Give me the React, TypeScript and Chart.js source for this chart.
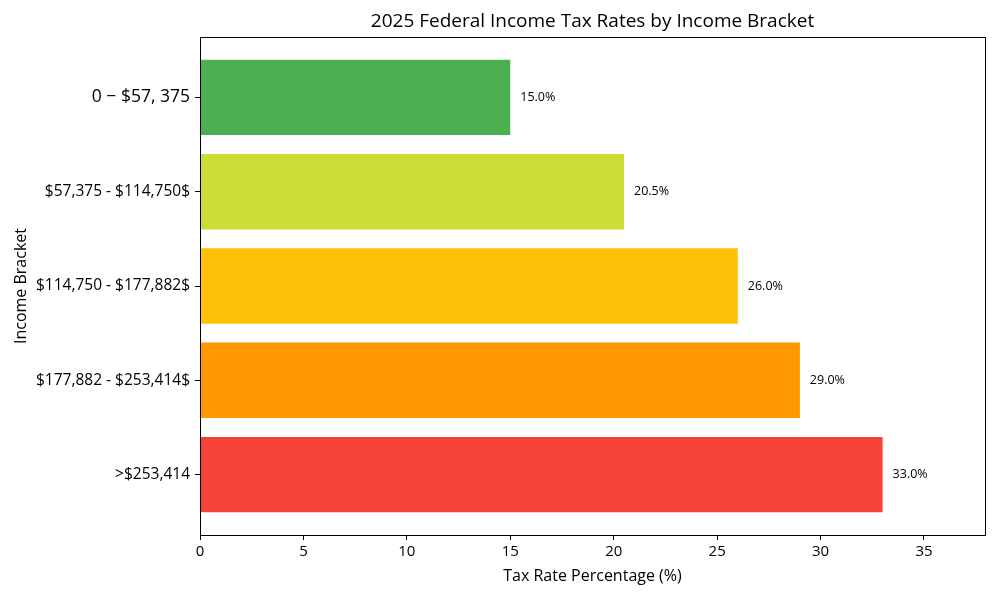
import React, { useEffect, useRef } from "react";
import { Chart, registerables } from "chart.js";

Chart.register(...registerables);

const BRACKETS = [
  "0 − $57, 375",
  "$57,375 - $114,750$",
  "$114,750 - $177,882$",
  "$177,882 - $253,414$",
  ">$253,414",
];
const RATES = [15.0, 20.5, 26.0, 29.0, 33.0];
const COLORS = ["#4CAF50", "#CDDC39", "#FFC107", "#FF9800", "#F44336"];
const X_TICKS = [0, 5, 10, 15, 20, 25, 30, 35];
const TITLE = "2025 Federal Income Tax Rates by Income Bracket";
const X_TITLE = "Tax Rate Percentage (%)";
const Y_TITLE = "Income Bracket";

const FONT = "'Open Sans', Roboto, sans-serif";

const valueLabels = {
  id: "valueLabels",
  afterDatasetsDraw(chart: any) {
    const ctx = chart.ctx;
    const meta = chart.getDatasetMeta(0);
    ctx.save();
    ctx.fillStyle = "#000";
    ctx.font = `12.5px ${FONT}`;
    ctx.textAlign = "left";
    ctx.textBaseline = "middle";
    meta.data.forEach((bar: any, i: number) => {
      ctx.fillText(`${RATES[i].toFixed(1)}%`, bar.x + 10, bar.y);
    });
    ctx.restore();
  },
};

const frame = {
  id: "frame",
  afterDraw(chart: any) {
    const { left, top, right, bottom } = chart.chartArea;
    const ctx = chart.ctx;
    ctx.save();
    ctx.strokeStyle = "#000";
    ctx.lineWidth = 1;
    ctx.strokeRect(Math.round(left) + 0.5, Math.round(top) + 0.5, Math.round(right - left), Math.round(bottom - top));
    ctx.restore();
  },
};

export default function App() {
  const ref = useRef<HTMLCanvasElement>(null);

  useEffect(() => {
    if (!ref.current) return;
    const chart = new Chart(ref.current, {
      type: "bar",
      data: {
        datasets: [
          {
            data: RATES.map((r, i) => ({ x: r, y: i })),
            backgroundColor: COLORS,
            borderWidth: 0,
            barPercentage: 0.8,
            categoryPercentage: 1.0,
          },
        ],
      },
      options: {
        animation: false,
        responsive: true,
        maintainAspectRatio: false,
        indexAxis: "y",
        layout: { padding: { left: 0, right: 15, top: 0, bottom: 0 } },
        plugins: {
          legend: { display: false },
          tooltip: { enabled: false },
          title: {
            display: true,
            text: TITLE,
            fullSize: false,
            color: "#000",
            font: { family: FONT, size: 19, weight: "normal" },
            padding: { top: 10, bottom: 4.2 },
          },
        },
        scales: {
          x: {
            type: "linear",
            position: "bottom",
            min: 0,
            max: 37.95,
            ticks: {
              stepSize: 5,
              color: "#000",
              font: { family: FONT, size: 15 },
              padding: 3,
              maxRotation: 0,
            },
            afterBuildTicks: (scale: any) => {
              scale.ticks = X_TICKS.map((v) => ({ value: v }));
            },
            afterFit: (scale: any) => {
              scale.height = 65;
            },
            grid: { display: true, drawOnChartArea: false, drawTicks: true, tickLength: 5, color: "#000" },
            border: { display: false },
            title: {
              display: true,
              text: X_TITLE,
              color: "#000",
              font: { family: FONT, size: 16 },
              padding: { top: 0, bottom: 14 },
            },
          },
          y: {
            type: "linear",
            position: "left",
            reverse: true,
            offset: false,
            min: -0.64,
            max: 4.64,
            ticks: {
              color: "#000",
              padding: 5,
              font: (c: any) => ({ family: FONT, size: c.index === 0 ? 17.5 : 15.5 }),
              callback: (v: any) => BRACKETS[v] ?? "",
            },
            afterBuildTicks: (scale: any) => {
              scale.ticks = BRACKETS.map((_, i) => ({ value: i }));
            },
            afterFit: (scale: any) => {
              scale.width = 200;
            },
            grid: { display: true, offset: false, drawOnChartArea: false, drawTicks: true, tickLength: 5, color: "#000" },
            border: { display: false },
            title: {
              display: true,
              text: Y_TITLE,
              color: "#000",
              font: { family: FONT, size: 16 },
              padding: { top: 12, bottom: 0 },
            },
          },
        },
      },
      plugins: [valueLabels, frame],
    });
    return () => chart.destroy();
  }, []);

  return (
    <div style={{ position: "fixed", left: 0, top: 0, width: 1000, height: 600, background: "#fff" }}>
      <canvas ref={ref} />
    </div>
  );
}
